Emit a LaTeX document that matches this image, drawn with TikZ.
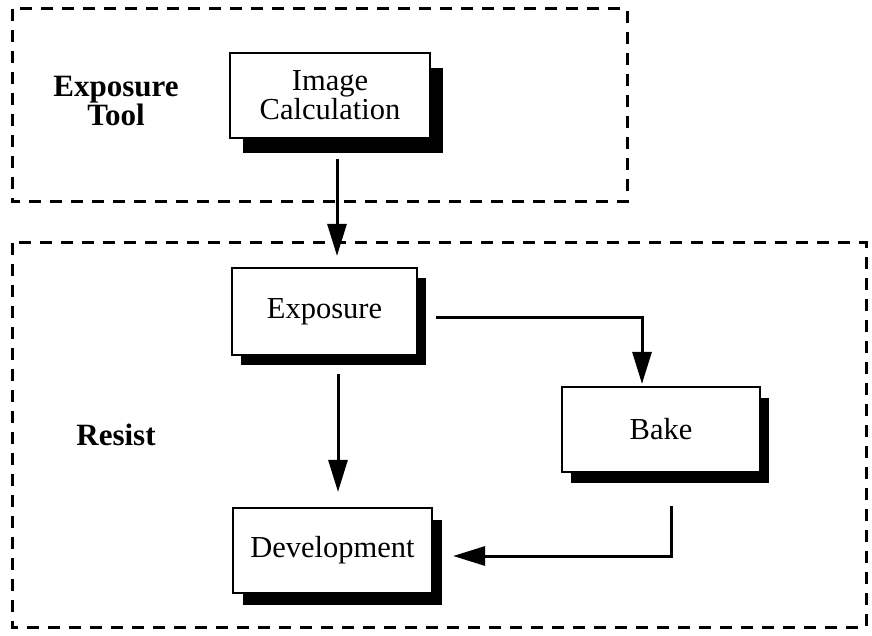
\documentclass[tikz,border=0pt]{standalone}
\usepackage{fontspec}
\setmainfont{Liberation Serif}
\usetikzlibrary{arrows.meta,shadows}
\begin{document}
\begin{tikzpicture}[x=1pt,y=-1pt,
  group/.style={draw, line width=3pt, dash pattern=on 12pt off 9pt},
  stage/.style={draw, line width=2.2pt, fill=white, inner sep=0pt,
    font=\fontsize{30.5}{29}\selectfont, align=center},
  shade/.style 2 args={drop shadow={shadow xshift=#1, shadow yshift=#2,
    shadow scale=1, opacity=1, fill=black}},
  label/.style={font=\fontsize{31}{29}\selectfont\bfseries, align=center},
  arr/.style={line width=3pt, -{Triangle[length=32pt,width=19pt]}}]
\useasboundingbox (0,0) rectangle (872,636);

% dashed group frames
\draw[group] (12,9) rectangle (627,202);
\draw[group] (12,243) rectangle (866,627);

% group labels
\node[label] (tool) at (116,101) {Exposure\\Tool};
\node[label, anchor=base] (resist) at (116,445) {Resist};

% process stages
\node[stage, shade={13pt}{-15pt}, minimum width=200pt, minimum height=85pt]
  (calc) at (330,95.5) {Image\\Calculation};
\node[stage, shade={9pt}{-10pt}, minimum width=185pt, minimum height=87pt]
  (exp) at (324.5,311.5) {Exposure};
\node[stage, shade={9pt}{-11pt}, minimum width=198pt, minimum height=85pt]
  (bake) at (661,429.5) {Bake};
\node[stage, shade={10pt}{-12pt}, minimum width=199pt, minimum height=85pt]
  (dev) at (332.5,550.5) {Development};

% flow
\draw[arr, shorten <=20pt, shorten >=11pt]
  ([xshift=7pt]calc.south) -- ([xshift=7pt]calc.south |- exp.north);
\draw[arr, shorten <=18pt, shorten >=2pt]
  ([yshift=-5.5pt]exp.east) -| ([xshift=-19pt]bake.north);
\draw[arr, shorten <=18pt, shorten >=15pt]
  ([xshift=13.5pt]exp.south) -- ([xshift=13.5pt]exp.south |- dev.north);
\draw[arr, shorten <=33pt, shorten >=20pt]
  ([xshift=10pt]bake.south) |- ([yshift=-5.5pt]dev.east);
\end{tikzpicture}
\end{document}
